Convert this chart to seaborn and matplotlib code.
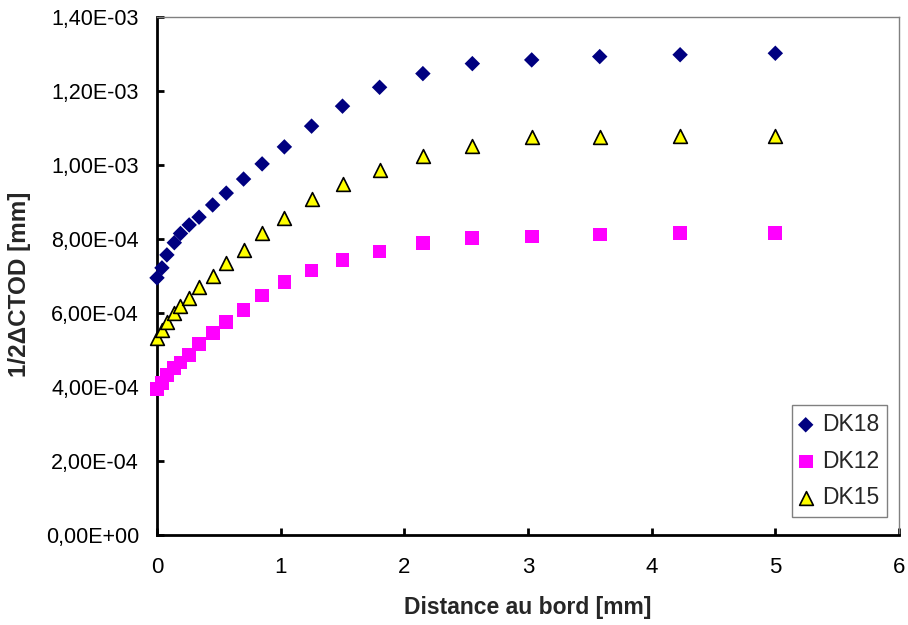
import matplotlib
matplotlib.use("Agg")
import matplotlib.pyplot as plt
import seaborn as sns
import pandas as pd

# ---- data ----
distance = [0.0, 0.04, 0.08, 0.14, 0.19, 0.26, 0.34, 0.45, 0.56, 0.70, 0.85,
            1.03, 1.25, 1.50, 1.80, 2.15, 2.55, 3.03, 3.58, 4.23, 5.0]
dk18 = [6.95e-4, 7.22e-4, 7.57e-4, 7.90e-4, 8.15e-4, 8.38e-4, 8.59e-4, 8.92e-4,
        9.24e-4, 9.62e-4, 1.003e-3, 1.049e-3, 1.105e-3, 1.159e-3, 1.210e-3,
        1.247e-3, 1.274e-3, 1.284e-3, 1.293e-3, 1.298e-3, 1.302e-3]
dk12 = [3.94e-4, 4.10e-4, 4.32e-4, 4.51e-4, 4.66e-4, 4.86e-4, 5.16e-4, 5.45e-4,
        5.76e-4, 6.08e-4, 6.47e-4, 6.83e-4, 7.15e-4, 7.43e-4, 7.66e-4,
        7.89e-4, 8.03e-4, 8.07e-4, 8.12e-4, 8.16e-4, 8.16e-4]
dk15 = [5.32e-4, 5.54e-4, 5.76e-4, 5.99e-4, 6.19e-4, 6.40e-4, 6.70e-4, 7.00e-4,
        7.34e-4, 7.70e-4, 8.15e-4, 8.58e-4, 9.08e-4, 9.49e-4, 9.87e-4,
        1.024e-3, 1.052e-3, 1.076e-3, 1.075e-3, 1.079e-3, 1.079e-3]
series_names = ["DK18", "DK12", "DK15"]
x_ticks = [0, 1, 2, 3, 4, 5, 6]
y_ticks = [0, 2e-4, 4e-4, 6e-4, 8e-4, 1.0e-3, 1.2e-3, 1.4e-3]

sns.set_style("ticks")
plt.rcParams["font.family"] = ["Liberation Sans", "DejaVu Sans"]

fig = plt.figure(figsize=(9.08, 6.25), dpi=100)
ax = fig.add_axes([157 / 908, 1 - 535 / 625, (899 - 157) / 908, (535 - 17) / 625])

df18 = pd.DataFrame({"x": distance, "y": dk18})
df12 = pd.DataFrame({"x": distance, "y": dk12})
df15 = pd.DataFrame({"x": distance, "y": dk15})

sns.scatterplot(data=df18, x="x", y="y", marker="D", s=62, color="#000080",
                edgecolor="none", label=series_names[0], ax=ax, clip_on=False, zorder=3)
sns.scatterplot(data=df12, x="x", y="y", marker="s", s=98, color="#FF00FF",
                edgecolor="none", label=series_names[1], ax=ax, clip_on=False, zorder=3)
sns.scatterplot(data=df15, x="x", y="y", marker="^", s=98, color="#FFFF00",
                edgecolor="black", linewidth=1.2, label=series_names[2], ax=ax,
                clip_on=False, zorder=3)

ax.set_xlim(0, 6)
ax.set_ylim(0, 1.4e-3)
ax.set_xticks(x_ticks)
ax.set_yticks(y_ticks)
ax.set_xticklabels([str(t) for t in x_ticks], fontsize=16)
ax.set_yticklabels([f"{v:.2E}".replace(".", ",") for v in y_ticks], fontsize=15.5)
ax.tick_params(axis="both", direction="in", length=5, width=2, colors="black")
ax.tick_params(axis="x", pad=16)
ax.tick_params(axis="y", pad=13)

for side in ["left", "bottom"]:
    ax.spines[side].set_linewidth(2)
    ax.spines[side].set_color("black")
for side in ["top", "right"]:
    ax.spines[side].set_visible(True)
    ax.spines[side].set_linewidth(1)
    ax.spines[side].set_color("#808080")

ax.set_xlabel("Distance au bord [mm]", fontsize=16.5, fontweight="bold")
ax.xaxis.set_label_coords(0.5, -0.118)
ax.set_ylabel("1/2ΔCTOD [mm]", fontsize=17.5, fontweight="bold")
ax.yaxis.set_label_coords(-0.17, 0.483)

leg = ax.legend(loc="lower right", bbox_to_anchor=(0.984, 0.035), fontsize=16.5,
                frameon=True, fancybox=False, edgecolor="#606060",
                borderpad=0.33, labelspacing=0.6, handletextpad=0.45,
                handlelength=0.55, borderaxespad=0)
leg.get_frame().set_linewidth(1)

fig.savefig("out.png", dpi=100)
